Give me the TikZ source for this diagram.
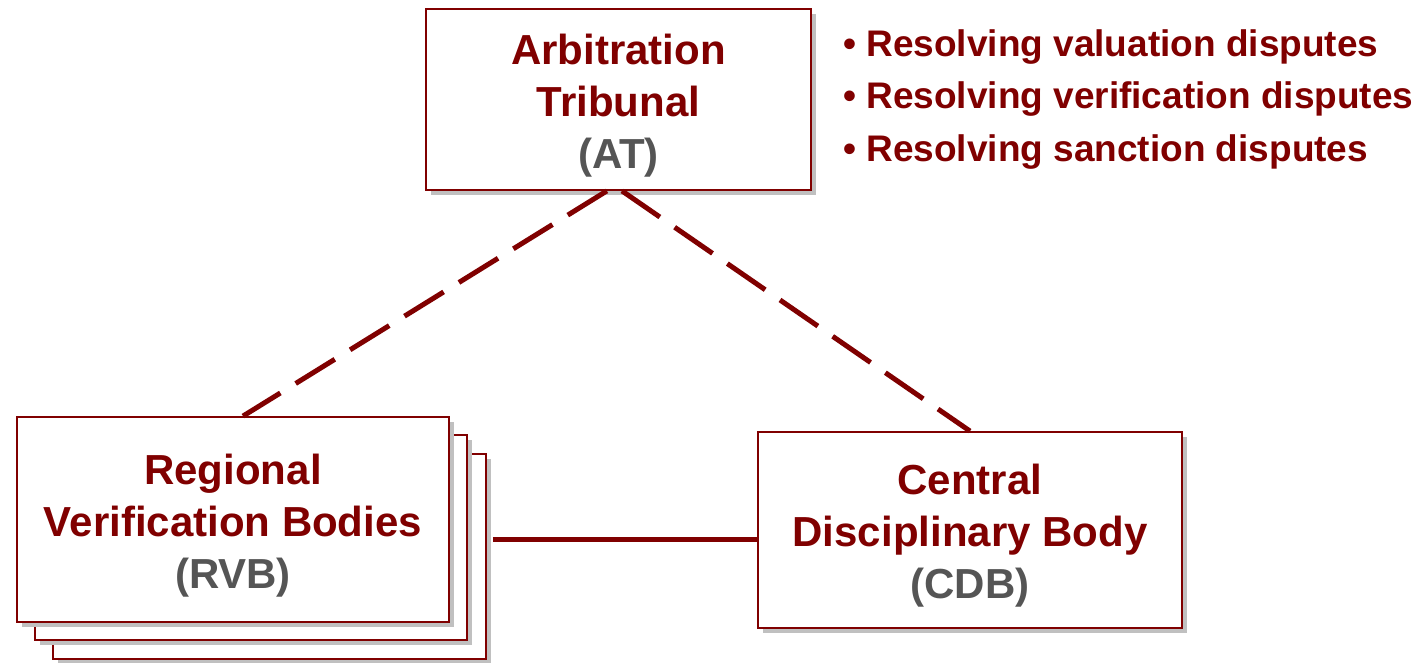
\documentclass[tikz,border=0pt]{standalone}
\usepackage{fontspec}
\setmainfont{Liberation Sans}
\usetikzlibrary{shadows,calc}
\definecolor{dred}{RGB}{128,0,0}
\definecolor{dgray}{RGB}{85,85,85}
\definecolor{shgray}{RGB}{192,192,192}
\newcommand{\topstrut}{\rule{0pt}{42pt}}
\begin{document}
\begin{tikzpicture}[x=1pt,y=-1pt,
  boxnode/.style={draw=dred, line width=1.8pt, fill=white, inner sep=0pt,
    align=center, text=dred,
    font=\fontsize{42}{52}\selectfont\bfseries,
    drop shadow={shadow xshift=5pt, shadow yshift=-5pt, fill=shgray, opacity=1}},
  dashlink/.style={draw=dred, line width=5pt, dash pattern=on 46pt off 18pt},
  solidlink/.style={draw=dred, line width=5pt},
  bullet/.style={anchor=west, inner sep=0pt, text=dred,
    font=\fontsize{37}{44}\selectfont\bfseries}]
\useasboundingbox (0,0) rectangle (1428,662);
\fill[white] (0,0) rectangle (1428,662);
% AT box
\node[boxnode, minimum width=385pt, minimum height=181pt] (AT) at (618.5,99.5)
  {\topstrut Arbitration\\Tribunal\\\textcolor{dgray}{(AT)}};
% RVB stack
\node[boxnode, minimum width=433pt, minimum height=205pt] (rvb3) at (269.5,556.5) {};
\node[boxnode, minimum width=432pt, minimum height=205pt] (rvb2) at (251,537.5) {};
\node[boxnode, minimum width=432pt, minimum height=205pt] (RVB) at (233,519.5)
  {\topstrut Regional\\Verification Bodies\\\textcolor{dgray}{(RVB)}};
% CDB box
\node[boxnode, minimum width=424pt, minimum height=196pt] (CDB) at (970,530)
  {\topstrut Central\\Disciplinary Body\\\textcolor{dgray}{(CDB)}};
% connectors
\draw[dashlink] ($(AT.south west)!0.47!(AT.south east)$) -- ($(RVB.north west)!0.523!(RVB.north east)$);
\draw[dashlink] ($(AT.south west)!0.509!(AT.south east)$) -- (CDB.north);
\coordinate (sl) at ($(rvb3.east |- rvb2.center)+(6,1.5)$);
\draw[solidlink] (sl) -- (CDB.west |- sl);
% bullets
\node[bullet] (b1) at (843,47) {\textbullet\ Resolving valuation disputes};
\node[bullet] (b2) at (843,99) {\textbullet\ Resolving verification disputes};
\node[bullet] (b3) at (843,152) {\textbullet\ Resolving sanction disputes};
\end{tikzpicture}
\end{document}
